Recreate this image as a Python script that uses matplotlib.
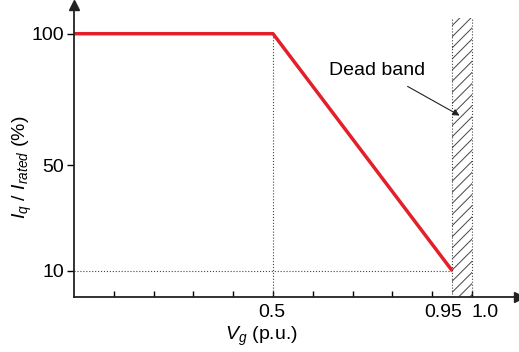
import matplotlib.pyplot as plt
import numpy as np

plt.rcParams['font.family'] = ['Liberation Sans', 'DejaVu Sans']
plt.rcParams['mathtext.fontset'] = 'custom'
plt.rcParams['mathtext.it'] = 'Liberation Sans:italic'
plt.rcParams['mathtext.rm'] = 'Liberation Sans'
plt.rcParams['hatch.linewidth'] = 0.7

# characteristic curve
vg = [0.0, 0.5, 0.95]
iq = [100, 100, 10]

dead_band = (0.95, 1.0)
ytick_vals = [10, 50, 100]
xlabel_vals = [0.5, 0.95, 1.0]
xlabel_text = ["0.5", "0.95", "1.0"]
minor_x = [0.1, 0.2, 0.3, 0.4, 0.5, 0.6, 0.7, 0.8, 0.9, 1.0]

fig = plt.figure(figsize=(5.19, 3.52), dpi=100)
ax = fig.add_axes([74 / 519, 55 / 352, 445 / 519, 292 / 352])
ax.set_xlim(0, 1.118)
ax.set_ylim(0, 110.9)

for s in ['top', 'right']:
    ax.spines[s].set_visible(False)
for s in ['left', 'bottom']:
    ax.spines[s].set_linewidth(1.3)
    ax.spines[s].set_color('#222222')

# arrow heads
ax.plot(1, 0, '>', color='#222222', ms=7, transform=ax.transAxes, clip_on=False)
ax.plot(0, 1, '^', color='#222222', ms=7, transform=ax.transAxes, clip_on=False)

# guide lines
ax.plot([0.5, 0.5], [0, 100], ':', color='#444444', lw=0.8)
ax.plot([0, 0.95], [10, 10], ':', color='#444444', lw=0.8)
ax.plot([dead_band[0]] * 2, [0, 106], ':', color='#444444', lw=0.8)
ax.plot([dead_band[1]] * 2, [0, 106], ':', color='#444444', lw=0.8)

# dead band hatch
ax.fill_between(dead_band, 0, 106, facecolor='none', edgecolor='#444444',
                hatch='///', linewidth=0)

# red curve
ax.plot(vg, iq, color='#e3202a', lw=2.5, solid_capstyle='butt')

# ticks
ax.set_yticks(ytick_vals)
ax.set_yticklabels([str(v) for v in ytick_vals], fontsize=14)
ax.tick_params(axis='y', direction='out', length=5, width=1, pad=2)
ax.set_xticks(minor_x)
ax.set_xticklabels([])
ax.tick_params(axis='x', direction='in', length=4, width=1)

label_pos = [0.498, 0.928, 1.033]
for p, t in zip(label_pos, xlabel_text):
    ax.text(p, -2.5, t, ha='center', va='top', fontsize=14)

ax.text(0.47, -10.5, r'$V_g$ (p.u.)', ha='center', va='top', fontsize=14)
fig.text(22 / 519, 0.525, r'$I_q$ / $I_{rated}$ (%)', rotation=90,
         ha='center', va='center', fontsize=14)

ax.annotate('', xy=(0.975, 68.4), xytext=(0.832, 80.5),
            arrowprops=dict(arrowstyle='-|>', color='#222222', lw=0.8,
                            mutation_scale=10))
ax.text(0.762, 86, 'Dead band', ha='center', va='center', fontsize=14)

fig.savefig('out.png', dpi=100)
